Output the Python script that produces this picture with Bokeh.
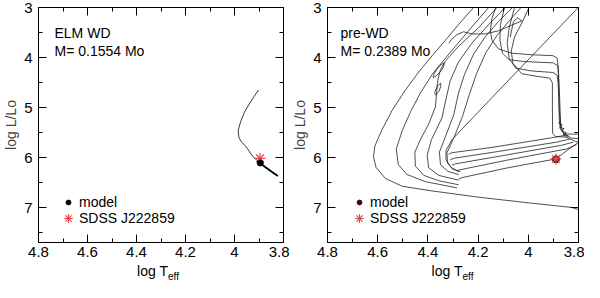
from bokeh.plotting import figure
from bokeh.layouts import row, column
from bokeh.models import (Range1d, FixedTicker, LinearAxis, CustomJSTickFormatter,
                          Label, Legend, LegendItem, Div)
from bokeh.embed import file_html
from bokeh.resources import INLINE

# ---------------- axis ticks ----------------
x_major = [4.8, 4.6, 4.4, 4.2, 4.0, 3.8]
x_minor = [4.7, 4.5, 4.3, 4.1, 3.9]
y_major = [3, 4, 5, 6, 7]
y_minor = [3.5, 4.5, 5.5, 6.5, 7.5]

# ---------------- left panel: ELM WD track ----------------
elm_t = [3.902, 3.920, 3.940, 3.960, 3.975, 3.985, 3.982, 3.970, 3.955, 3.925, 3.905, 3.895]
elm_g = [4.65, 4.78, 4.93, 5.10, 5.28, 5.46, 5.60, 5.70, 5.77, 5.98, 6.07, 6.11]
elm_end_t = [3.895, 3.875, 3.855, 3.838, 3.823]
elm_end_g = [6.11, 6.19, 6.26, 6.32, 6.37]
elm_model_t = [3.895]
elm_model_g = [6.11]
elm_obs_t = [3.896]
elm_obs_g = [6.017]

# ---------------- right panel: pre-WD tracks ----------------
c1_t = [4.218, 4.278, 4.330, 4.383, 4.436, 4.489, 4.542, 4.584, 4.611, 4.617, 4.606, 4.569,
        4.502, 4.383, 4.198, 4.013, 3.828, 3.799]
c1_g = [3.000, 3.342, 3.653, 3.964, 4.287, 4.648, 5.052, 5.456, 5.767, 5.985, 6.203, 6.420,
        6.576, 6.669, 6.794, 6.899, 6.999, 7.042]
c2_t = [4.158, 4.238, 4.317, 4.383, 4.430, 4.469, 4.502, 4.526, 4.518, 4.483, 4.410, 4.284]
c2_g = [3.000, 3.466, 3.933, 4.337, 4.710, 5.083, 5.456, 5.830, 6.141, 6.340, 6.483, 6.607]
c3_t = [4.125, 4.198, 4.278, 4.328, 4.350, 4.361, 4.365, 4.370, 4.397, 4.430, 4.452, 4.450,
        4.416, 4.357, 4.278]
c3_g = [3.000, 3.404, 3.777, 4.057, 4.244, 4.461, 4.679, 4.990, 5.332, 5.643, 5.892, 6.172,
        6.358, 6.464, 6.545]
loop1_t = [4.336, 4.357, 4.377, 4.379, 4.367, 4.346, 4.336, 4.336]
loop1_g = [4.107, 4.182, 4.337, 4.399, 4.368, 4.262, 4.163, 4.107]
loop2_t = [4.349, 4.362, 4.373, 4.370, 4.357, 4.349, 4.349]
loop2_g = [4.511, 4.573, 4.698, 4.748, 4.685, 4.586, 4.511]
c4_t = [4.092, 4.158, 4.225, 4.278, 4.311, 4.328, 4.344, 4.386, 4.403, 4.397, 4.357, 4.278]
c4_g = [3.000, 3.342, 3.715, 4.088, 4.461, 4.835, 5.208, 5.643, 5.954, 6.203, 6.358, 6.452]
c5_t = [4.063, 4.119, 4.172, 4.218, 4.254, 4.278, 4.297, 4.330, 4.354, 4.350, 4.320, 4.278]
c5_g = [3.000, 3.280, 3.591, 3.933, 4.337, 4.710, 5.146, 5.581, 5.892, 6.141, 6.277, 6.340]
c6_t = [4.029, 4.076, 4.125, 4.169, 4.205, 4.235, 4.262, 4.297, 4.324, 4.322, 4.301, 4.271]
c6_g = [3.000, 3.267, 3.560, 3.902, 4.306, 4.741, 5.177, 5.612, 5.904, 6.109, 6.234, 6.284]
diag_t = [3.795, 4.145, 4.304, 4.328, 4.328, 4.307, 4.278]
diag_g = [2.970, 4.803, 5.643, 5.861, 6.047, 6.203, 6.277]

p1_t = [4.129, 4.145, 4.151, 4.145, 4.119, 4.066, 3.987, 3.901, 3.885, 3.881, 3.878, 3.877,
        3.873, 3.854, 3.799]
p1_g = [3.000, 3.218, 3.466, 3.653, 3.827, 3.914, 3.945, 3.964, 4.014, 4.182, 4.710, 5.208,
        5.425, 5.531, 5.531]
p2_t = [4.095, 4.111, 4.113, 4.103, 4.076, 4.013, 3.901, 3.883, 3.879, 3.875, 3.871, 3.861,
        3.828, 3.799]
p2_g = [3.000, 3.342, 3.653, 3.914, 4.045, 4.082, 4.107, 4.163, 4.337, 4.835, 5.363, 5.506,
        5.612, 5.624]
p3_t = [4.055, 4.076, 4.084, 4.076, 4.050, 3.987, 3.901, 3.885, 3.881, 3.877, 3.870, 3.848,
        3.815, 3.799]
p3_g = [3.000, 3.404, 3.715, 4.026, 4.213, 4.269, 4.300, 4.356, 4.524, 5.021, 5.425, 5.593,
        5.674, 5.693]
p4_t = [3.997, 4.026, 4.055, 4.068, 4.061, 4.026, 3.960, 3.914, 3.904, 3.904, 3.903, 3.891, 3.841]
p4_g = [3.000, 3.311, 3.591, 3.871, 4.119, 4.325, 4.381, 4.412, 4.511, 5.021, 5.519, 5.581, 5.593]
hook_t = [4.072, 4.059, 4.042, 4.026, 4.066, 4.119, 4.172, 4.225, 4.258, 4.284, 4.307, 4.317]
hook_g = [3.591, 3.280, 3.205, 3.267, 3.354, 3.466, 3.529, 3.529, 3.485, 3.541, 3.641, 3.715]
wig_t = [3.881, 3.865, 3.874, 3.857, 3.867, 3.848, 3.861, 3.841]
wig_g = [5.301, 5.345, 5.394, 5.425, 5.469, 5.506, 5.537, 5.568]

b1_t = [3.854, 3.907, 4.145, 4.304, 4.317]
b1_g = [5.556, 5.606, 5.798, 5.904, 5.935]
b2_t = [3.834, 3.887, 4.119, 4.297, 4.311]
b2_g = [5.631, 5.693, 5.879, 6.016, 6.047]
b3_t = [3.821, 3.867, 4.092, 4.291, 4.304]
b3_g = [5.693, 5.755, 5.954, 6.128, 6.153]
b4_t = [3.808, 3.848, 4.079, 4.278, 4.284]
b4_g = [5.743, 5.830, 6.047, 6.252, 6.277]
b5_t = [3.799, 3.841, 3.890, 4.079, 4.264, 4.278]
b5_g = [5.693, 5.842, 6.029, 6.203, 6.402, 6.433]

pre_model_t = [3.890]
pre_model_g = [6.035]
pre_obs_t = [3.890]
pre_obs_g = [6.029]

track_xs = [c1_t, c2_t, c3_t, loop1_t, loop2_t, c4_t, c5_t, c6_t, diag_t,
            p1_t, p2_t, p3_t, p4_t, hook_t, wig_t, b1_t, b2_t, b3_t, b4_t, b5_t]
track_ys = [c1_g, c2_g, c3_g, loop1_g, loop2_g, c4_g, c5_g, c6_g, diag_g,
            p1_g, p2_g, p3_g, p4_g, hook_g, wig_g, b1_g, b2_g, b3_g, b4_g, b5_g]

FONT = "Liberation Sans"
LINE = "#222222"
RED = "#e8474c"
FIG_H = 264
B_TOP = 7
B_BOT = 22
B_RIGHT = 6
FH = FIG_H - B_TOP - B_BOT  # frame height
DIV_H = 18


def style_axis(ax, labels):
    ax.major_tick_in = 8
    ax.major_tick_out = 0
    ax.minor_tick_in = 4
    ax.minor_tick_out = 0
    ax.axis_line_color = "black"
    ax.major_tick_line_color = "black"
    ax.minor_tick_line_color = "black"
    if labels:
        ax.formatter = CustomJSTickFormatter(code="return String(Math.round(tick*10)/10);")
        ax.major_label_text_font = FONT
        ax.major_label_text_font_size = "15px"
        ax.major_label_text_color = "black"
    else:
        ax.formatter = CustomJSTickFormatter(code="return '';")
        ax.major_label_standoff = 0


def make_panel(width, border_left, title1, title2, title_x):
    p = figure(width=width, height=FIG_H, x_range=Range1d(4.8, 3.8), y_range=Range1d(7.7, 3.0),
               output_backend="svg", toolbar_location=None,
               min_border_left=border_left, min_border_right=B_RIGHT,
               min_border_top=B_TOP, min_border_bottom=B_BOT)
    p.grid.visible = False
    p.outline_line_color = "black"
    p.background_fill_color = "white"
    p.border_fill_color = "white"

    xa = p.xaxis[0]
    xa.ticker = FixedTicker(ticks=x_major, minor_ticks=x_minor)
    style_axis(xa, True)
    xa.major_label_standoff = 4
    ya = p.yaxis[0]
    ya.ticker = FixedTicker(ticks=y_major, minor_ticks=y_minor)
    style_axis(ya, True)
    ya.major_label_standoff = 6
    ya.axis_label = "log L/Lo"
    ya.axis_label_text_font = FONT
    ya.axis_label_text_font_size = "14px"
    ya.axis_label_text_font_style = "normal"
    ya.axis_label_standoff = 2

    top = LinearAxis(ticker=FixedTicker(ticks=x_major, minor_ticks=x_minor))
    style_axis(top, False)
    p.add_layout(top, "above")
    right = LinearAxis(ticker=FixedTicker(ticks=y_major, minor_ticks=y_minor))
    style_axis(right, False)
    p.add_layout(right, "right")

    p.add_layout(Label(x=title_x, y=FH - 25, x_units="screen", y_units="screen", text=title1,
                       text_font=FONT, text_font_size="14px", text_baseline="alphabetic",
                       text_color="black"))
    p.add_layout(Label(x=title_x, y=FH - 43, x_units="screen", y_units="screen", text=title2,
                       text_font=FONT, text_font_size="14px", text_baseline="alphabetic",
                       text_color="black"))
    return p


def axis_title(width, border_left):
    fw = width - border_left - B_RIGHT
    html = ('<div style="margin-left:%dpx;width:%dpx;margin-top:-3px;text-align:center;'
            'font-family:\'Liberation Sans\';font-size:14px;line-height:16px;color:black;'
            'white-space:nowrap;">log T<sub style="font-size:10px;line-height:0;'
            'vertical-align:-4px;">eff</sub></div>') % (border_left, fw)
    return Div(text=html, width=width, height=DIV_H, margin=0)


def add_legend(p, dot_r, star_r, lx):
    common = dict(orientation="vertical", border_line_color=None, background_fill_alpha=0.0,
                  padding=0, margin=0, spacing=0,
                  label_text_font=FONT, label_text_font_size="14px", label_text_color="black")
    leg_dot = Legend(items=[LegendItem(label="model", renderers=[dot_r])],
                     location=(lx, 32), glyph_width=12, glyph_height=16, label_height=16,
                     label_standoff=5, **common)
    leg_star = Legend(items=[LegendItem(label="SDSS J222859", renderers=[star_r])],
                      location=(lx - 5, 11), glyph_width=22, glyph_height=26, label_height=16,
                      label_standoff=0, **common)
    p.add_layout(leg_dot)
    p.add_layout(leg_star)


W_L, BL_L = 289, 33
W_R, BL_R = 295, 38

# ---- left panel ----
pl = make_panel(W_L, BL_L, "ELM WD", "M= 0.1554 Mo", 16)
pl.line(elm_t, elm_g, line_color=LINE, line_width=0.9)
pl.line(elm_end_t, elm_end_g, line_color="black", line_width=1.8)
star_l = pl.scatter(elm_obs_t, elm_obs_g, marker="asterisk", size=11, line_color=RED, line_width=1.2)
dot_l = pl.scatter(elm_model_t, elm_model_g, marker="circle", size=6, color="black")
add_legend(pl, dot_l, star_l, 24)

# ---- right panel ----
pr = make_panel(W_R, BL_R, "pre-WD", "M= 0.2389 Mo", 13)
pr.multi_line(xs=track_xs, ys=track_ys, line_color=LINE, line_width=0.8)
dot_r = pr.scatter(pre_model_t, pre_model_g, marker="circle", size=7, color="#3a0a0a")
star_r = pr.scatter(pre_obs_t, pre_obs_g, marker="asterisk", size=11, line_color=RED, line_width=1.2)
add_legend(pr, dot_r, star_r, 26)

layout = row(column(pl, axis_title(W_L, BL_L)), column(pr, axis_title(W_R, BL_R)))
open("out.html", "w").write(file_html(layout, INLINE))
